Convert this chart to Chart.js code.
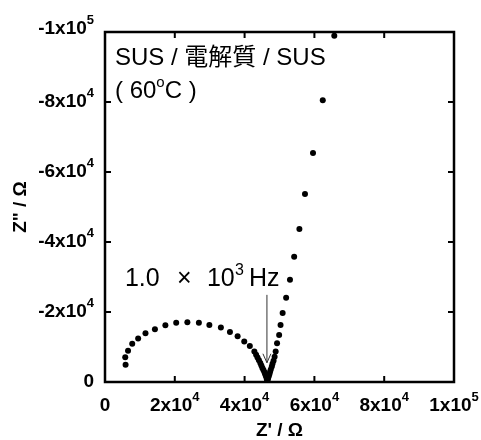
<!DOCTYPE html>
<html>
<head>
<meta charset="utf-8">
<script src="https://cdn.jsdelivr.net/npm/chart.js@4/dist/chart.umd.min.js"></script>
<style>
  body { margin: 0; background: #fff; }
  #wrap { width: 481px; height: 440px; position: relative; }
</style>
</head>
<body>
<div id="wrap"><canvas id="myChart"></canvas></div>
<script>
// Nyquist data, high frequency (left) -> low frequency (right), in ohm
const zReal = [5900, 5800, 6600, 7800, 9500, 11600, 14300, 17300, 20400, 23600, 26900, 29900,
  33200, 35800, 38000, 39900, 41500, 42800, 43300, 43700, 44100, 44500, 44800, 45100, 45400,
  45700, 45900, 46100, 46300, 46400, 46500, 46600, 46700, 46900, 47100, 47300, 47500, 47800,
  48000, 48300, 48600, 48900, 49300, 49900, 50300, 50900, 51900, 53000, 54200, 55700, 57300,
  59600, 62400, 65700];
const zImag = [-4900, -7100, -8900, -10900, -12400, -13900, -15100, -16200, -16900, -17100, -16900, -16300,
  -15600, -14300, -13100, -11600, -10300, -8700, -7800, -7000, -6200, -5400, -4700, -4000, -3400,
  -2800, -2200, -1700, -1200, -800, -400, -700, -1100, -1600, -2200, -2900, -3600, -4400,
  -5200, -6100, -7200, -8700, -11100, -13400, -16300, -19700, -24100, -29200, -35800, -43700, -53700,
  -65400, -80500, -98900];

const xTicks = [0, 20000, 40000, 60000, 80000, 100000];
const xTickBase = ["0", "2x10", "4x10", "6x10", "8x10", "1x10"];
const xTickExp = ["", "4", "4", "4", "4", "5"];
const yTicks = [0, -20000, -40000, -60000, -80000, -100000];
const yTickBase = ["0", "-2x10", "-4x10", "-6x10", "-8x10", "-1x10"];
const yTickExp = ["", "4", "4", "4", "4", "5"];

const arrowX = 46400;
const arrowFrom = -24900;
const arrowTo = -5500;

const FONT = '"Liberation Sans", Arial, "Noto Sans CJK JP", sans-serif';

function labelWidth(ctx, base, exp, size, supSize) {
  ctx.font = "bold " + size + "px " + FONT;
  let w = ctx.measureText(base).width;
  ctx.font = "bold " + supSize + "px " + FONT;
  if (exp) w += ctx.measureText(exp).width;
  return w;
}

function drawLabel(ctx, base, exp, x, y, size, supSize) {
  ctx.textBaseline = "middle";
  ctx.textAlign = "left";
  ctx.font = "bold " + size + "px " + FONT;
  ctx.fillText(base, x, y);
  const w = ctx.measureText(base).width;
  if (exp) {
    ctx.font = "bold " + supSize + "px " + FONT;
    ctx.fillText(exp, x + w, y - size * 0.45);
  }
}

const framePlugin = {
  id: "frame",
  afterDraw(chart) {
    const ctx = chart.ctx;
    const a = chart.chartArea;
    const xs = chart.scales.x;
    const ys = chart.scales.y;
    ctx.save();
    ctx.strokeStyle = "#000";
    ctx.fillStyle = "#000";
    ctx.lineWidth = 2.5;
    ctx.strokeRect(a.left, a.top, a.right - a.left, a.bottom - a.top);

    // inward ticks on all four sides
    const tl = 6;
    ctx.lineWidth = 2;
    ctx.beginPath();
    xTicks.forEach(v => {
      const px = xs.getPixelForValue(v);
      ctx.moveTo(px, a.bottom); ctx.lineTo(px, a.bottom - tl);
      ctx.moveTo(px, a.top); ctx.lineTo(px, a.top + tl);
    });
    yTicks.forEach(v => {
      const py = ys.getPixelForValue(v);
      ctx.moveTo(a.left, py); ctx.lineTo(a.left + tl, py);
      ctx.moveTo(a.right, py); ctx.lineTo(a.right - tl, py);
    });
    ctx.stroke();

    // tick labels
    xTicks.forEach((v, i) => {
      const px = xs.getPixelForValue(v);
      const w = labelWidth(ctx, xTickBase[i], xTickExp[i], 19, 13);
      drawLabel(ctx, xTickBase[i], xTickExp[i], px - w / 2, a.bottom + 24, 19, 13);
    });
    yTicks.forEach((v, i) => {
      const py = ys.getPixelForValue(v);
      const w = labelWidth(ctx, yTickBase[i], yTickExp[i], 19, 13);
      drawLabel(ctx, yTickBase[i], yTickExp[i], a.left - 11 - w, i === 5 ? py - 3 : py, 19, 13);
    });

    // axis titles
    ctx.font = "bold 19px " + FONT;
    ctx.textAlign = "center";
    ctx.textBaseline = "middle";
    ctx.fillText("Z' / \u03a9", (a.left + a.right) / 2, a.bottom + 49);
    ctx.save();
    ctx.translate(21, (a.top + a.bottom) / 2);
    ctx.rotate(-Math.PI / 2);
    ctx.fillText('Z" / \u03a9', 0, 0);
    ctx.restore();

    // annotations
    ctx.textAlign = "left";
    ctx.font = "24px " + FONT;
    ctx.fillText("SUS / \u96fb\u89e3\u8cea / SUS", a.left + 10, a.top + 26);
    ctx.fillText("( 60", a.left + 10, a.top + 59);
    let w = ctx.measureText("( 60").width;
    ctx.font = "15px " + FONT;
    ctx.fillText("o", a.left + 10 + w, a.top + 51);
    w += ctx.measureText("o").width;
    ctx.font = "24px " + FONT;
    ctx.fillText("C )", a.left + 10 + w, a.top + 59);

    const ax = xs.getPixelForValue(arrowX);
    const ay0 = ys.getPixelForValue(arrowFrom);
    const ay1 = ys.getPixelForValue(arrowTo);
    const tx = ax - 142;
    const ty = ay0 - 16;
    ctx.font = "25px " + FONT;
    ctx.fillText("1.0", tx, ty);
    ctx.fillText("\u00d7", tx + 52, ty);
    ctx.fillText("10", tx + 82, ty);
    ctx.font = "16px " + FONT;
    ctx.fillText("3", tx + 110, ty - 8);
    ctx.font = "25px " + FONT;
    ctx.fillText("Hz", tx + 124, ty);

    ctx.lineWidth = 1;
    ctx.strokeStyle = "#333";
    ctx.beginPath();
    ctx.moveTo(ax, ay0);
    ctx.lineTo(ax, ay1);
    ctx.moveTo(ax - 4, ay1 - 9);
    ctx.lineTo(ax, ay1);
    ctx.lineTo(ax + 4, ay1 - 9);
    ctx.stroke();
    ctx.restore();
  }
};

const points = zReal.map((x, i) => ({ x: x, y: zImag[i] }));

const ctx = document.getElementById("myChart").getContext("2d");
const myChart = new Chart(ctx, {
  type: "scatter",
  data: {
    datasets: [{
      data: points,
      pointRadius: 3,
      pointBackgroundColor: "#000",
      pointBorderColor: "#000",
      pointBorderWidth: 0,
      showLine: false,
    }],
  },
  options: {
    responsive: true,
    maintainAspectRatio: false,
    animation: false,
    layout: { padding: { top: 32, right: 27, left: 0, bottom: 0 } },
    plugins: { legend: { display: false }, tooltip: { enabled: false } },
    scales: {
      x: {
        type: "linear", min: 0, max: 100000,
        grid: { display: false }, border: { display: false },
        ticks: { display: false },
        afterFit(s) { s.height = 58; },
      },
      y: {
        type: "linear", min: -100000, max: 0, reverse: true,
        grid: { display: false }, border: { display: false },
        ticks: { display: false },
        afterFit(s) { s.width = 105; },
      },
    },
  },
  plugins: [framePlugin],
});
</script>
</body>
</html>
